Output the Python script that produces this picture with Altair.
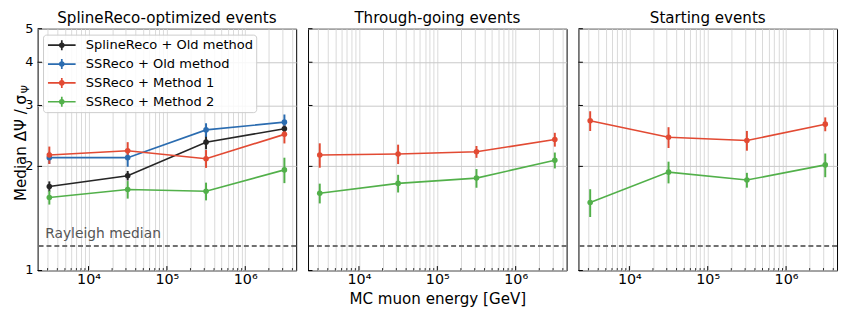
import altair as alt
import pandas as pd

FONT = "DejaVu Sans"

# ---------------- data ----------------
energy_gev = [3.16e3, 3.16e4, 3.16e5, 3.16e6]
series = ["SplineReco + Old method", "SSReco + Old method", "SSReco + Method 1", "SSReco + Method 2"]
series_colors = ["#262626", "#2b6cb0", "#e24a33", "#52b04a"]

# SplineReco-optimized events
opt_spline_old = [1.75, 1.88, 2.35, 2.57]
opt_spline_old_err = [0.06, 0.06, 0.11, 0.07]
opt_ss_old = [2.12, 2.12, 2.55, 2.685]
opt_ss_old_err = [0.085, 0.125, 0.115, 0.14]
opt_ss_m1 = [2.157, 2.22, 2.105, 2.475]
opt_ss_m1_err = [0.125, 0.13, 0.125, 0.145]
opt_ss_m2 = [1.626, 1.714, 1.695, 1.954]
opt_ss_m2_err = [0.075, 0.10, 0.10, 0.165]

# Through-going events
thr_ss_m1 = [2.157, 2.171, 2.204, 2.391]
thr_ss_m1_err = [0.175, 0.14, 0.087, 0.11]
thr_ss_m2 = [1.673, 1.786, 1.85, 2.083]
thr_ss_m2_err = [0.11, 0.105, 0.115, 0.11]

# Starting events
sta_ss_m1 = [2.709, 2.428, 2.376, 2.649]
sta_ss_m1_err = [0.178, 0.168, 0.156, 0.122]
sta_ss_m2 = [1.573, 1.925, 1.826, 2.02]
sta_ss_m2_err = [0.145, 0.139, 0.09, 0.159]

rayleigh_median = 1.1774
rayleigh_label = "Rayleigh median"
rayleigh_label_pos = [2800, 1.24]

panel_titles = ["SplineReco-optimized events", "Through-going events", "Starting events"]
x_title = "MC muon energy [GeV]"
y_title_main = "Median ΔΨ / σ"
y_title_sub = "Ψ"

x_domain = [2239, 4467000]
y_domain = [1, 5]
major_x = [1e4, 1e5, 1e6]
minor_x = [3e3, 4e3, 5e3, 6e3, 7e3, 8e3, 9e3,
           2e4, 3e4, 4e4, 5e4, 6e4, 7e4, 8e4, 9e4,
           2e5, 3e5, 4e5, 5e5, 6e5, 7e5, 8e5, 9e5,
           2e6, 3e6, 4e6]
y_ticks = [1, 2, 3, 4, 5]
y_tick_labels = ["1", "2", "3", "4", "5"]


def frame(entries):
    rows = []
    for name, vals, errs in entries:
        for e, v, d in zip(energy_gev, vals, errs):
            rows.append({"energy": e, "value": v, "lo": v - d, "hi": v + d, "series": name})
    return pd.DataFrame(rows)


df_opt = frame([(series[0], opt_spline_old, opt_spline_old_err),
                (series[1], opt_ss_old, opt_ss_old_err),
                (series[2], opt_ss_m1, opt_ss_m1_err),
                (series[3], opt_ss_m2, opt_ss_m2_err)])
df_thr = frame([(series[2], thr_ss_m1, thr_ss_m1_err),
                (series[3], thr_ss_m2, thr_ss_m2_err)])
df_sta = frame([(series[2], sta_ss_m1, sta_ss_m1_err),
                (series[3], sta_ss_m2, sta_ss_m2_err)])

W, H = 262, 245

xs = alt.Scale(type="log", domain=x_domain, nice=False)
ys = alt.Scale(type="log", domain=y_domain, nice=False)
color = alt.Color("series:N", scale=alt.Scale(domain=series, range=series_colors), legend=None)

label_expr = ("datum.value == 10000 ? '10\u2074' : datum.value == 100000 ? '10\u2075' : "
              "datum.value == 1000000 ? '10\u2076' : ''")


def panel(df, title, first, middle):
    xa = dict(values=major_x + minor_x, labelExpr=label_expr, grid=True, gridColor="#d9d9d9",
              gridWidth=1, ticks=False, domain=False, labelFontSize=14.5, labelPadding=2,
              labelOverlap=False, labelFlush=False, titleFontSize=15.3, titleFontWeight="normal",
              titlePadding=6, title=(x_title if middle else None))
    ya = dict(values=y_ticks, grid=True, gridColor="#c8c8c8", gridWidth=1, ticks=False,
              domain=False, labels=False, title=None)
    X = lambda f: alt.X(f, scale=xs, axis=alt.Axis(**xa))
    Y = lambda f: alt.Y(f, scale=ys, axis=alt.Axis(**ya))

    base = alt.Chart(df)
    ray = alt.Chart(pd.DataFrame({"y": [rayleigh_median]})).mark_rule(
        color="#707070", strokeDash=[5, 3], strokeWidth=2).encode(y=Y("y:Q"))
    lines = base.mark_line(strokeWidth=1.6).encode(x=X("energy:Q"), y=Y("value:Q"), color=color)
    errs = base.mark_rule(strokeWidth=2).encode(x=X("energy:Q"), y=Y("lo:Q"), y2="hi:Q", color=color)
    pts = base.mark_point(filled=True, size=32, opacity=1).encode(
        x=X("energy:Q"), y=Y("value:Q"), color=color)
    xt_major = alt.Chart(pd.DataFrame({"v": major_x})).mark_rule(color="black", strokeWidth=1).encode(
        x=X("v:Q"), y=alt.value(H), y2=alt.value(H - 4.5))
    xt_minor = alt.Chart(pd.DataFrame({"v": minor_x})).mark_rule(color="black", strokeWidth=0.8).encode(
        x=X("v:Q"), y=alt.value(H), y2=alt.value(H - 2.5))
    yt = alt.Chart(pd.DataFrame({"v": y_ticks})).mark_rule(color="black", strokeWidth=1).encode(
        y=Y("v:Q"), x=alt.value(0), x2=alt.value(4.5))
    ttl = alt.Chart(pd.DataFrame({"t": [title]})).mark_text(
        align="center", baseline="middle", fontSize=15.3, font=FONT, color="black").encode(
        x=alt.value(W / 2), y=alt.value(-11), text="t:N")
    layers = [ray, lines, errs, pts, xt_major, xt_minor, yt, ttl]
    if first:
        ylab = alt.Chart(pd.DataFrame({"v": y_ticks, "lab": y_tick_labels})).mark_text(
            align="right", baseline="middle", fontSize=13, font=FONT, color="black").encode(
            y=Y("v:Q"), x=alt.value(-4.2), text="lab:N")
        rtxt = alt.Chart(pd.DataFrame({"x": [rayleigh_label_pos[0]], "y": [rayleigh_label_pos[1]],
                                       "t": [rayleigh_label]})).mark_text(
            align="left", baseline="alphabetic", fontSize=14, font=FONT, color="#555555").encode(
            x=X("x:Q"), y=Y("y:Q"), text="t:N")
        yt_main = alt.Chart(pd.DataFrame({"t": [y_title_main]})).mark_text(
            angle=270, align="right", baseline="alphabetic", fontSize=15.3, font=FONT, color="black").encode(
            x=alt.value(-12), y=alt.value(67), text="t:N")
        yt_sub = alt.Chart(pd.DataFrame({"t": [y_title_sub]})).mark_text(
            angle=270, align="left", baseline="alphabetic", fontSize=10.5, font=FONT, color="black").encode(
            x=alt.value(-8.5), y=alt.value(65.5), text="t:N")
        layers += [ylab, rtxt, yt_main, yt_sub]
    inner = alt.layer(*layers)
    if first:
        leg_df = pd.DataFrame({"series": series, "row": [0, 1, 2, 3]})
        ly = alt.Y("row:Q", scale=alt.Scale(domain=[0, 3], range=[16.7, 74]), axis=None)
        box = alt.Chart(pd.DataFrame({"a": [0]})).mark_rect(
            fill="white", fillOpacity=0.85, stroke="#cccccc", strokeWidth=1, cornerRadius=3).encode(
            x=alt.value(6), x2=alt.value(222), y=alt.value(6.5), y2=alt.value(85))
        sym = alt.Chart(leg_df).mark_point(
            shape="M-1,0L1,0M0,-0.36L0,0.36", size=784, strokeWidth=1.7, filled=False, opacity=1).encode(
            x=alt.value(24.5), y=ly, color=color)
        dot = alt.Chart(leg_df).mark_point(filled=True, size=32, opacity=1).encode(
            x=alt.value(24.5), y=ly, color=color)
        txt = alt.Chart(leg_df).mark_text(align="left", baseline="middle", fontSize=13.2, font=FONT,
                                          color="black").encode(x=alt.value(48.7), y=ly, text="series:N")
        legend = alt.layer(box, sym, dot, txt)
        ch = alt.layer(inner, legend).resolve_scale(y="independent")
    else:
        ch = inner
    return ch.properties(width=W, height=H)


p1 = panel(df_opt, panel_titles[0], True, False)
p2 = panel(df_thr, panel_titles[1], False, True)
p3 = panel(df_sta, panel_titles[2], False, False)

chart = alt.hconcat(p1, p2, p3, spacing=8).properties(
    padding={"left": 5, "top": 0, "right": 0, "bottom": 0}
).configure_view(stroke="black", strokeWidth=1).configure_axis(
    labelFont=FONT, titleFont=FONT, labelColor="black", titleColor="black")

chart.save("out.html", embed_options={"renderer": "svg", "actions": False})
